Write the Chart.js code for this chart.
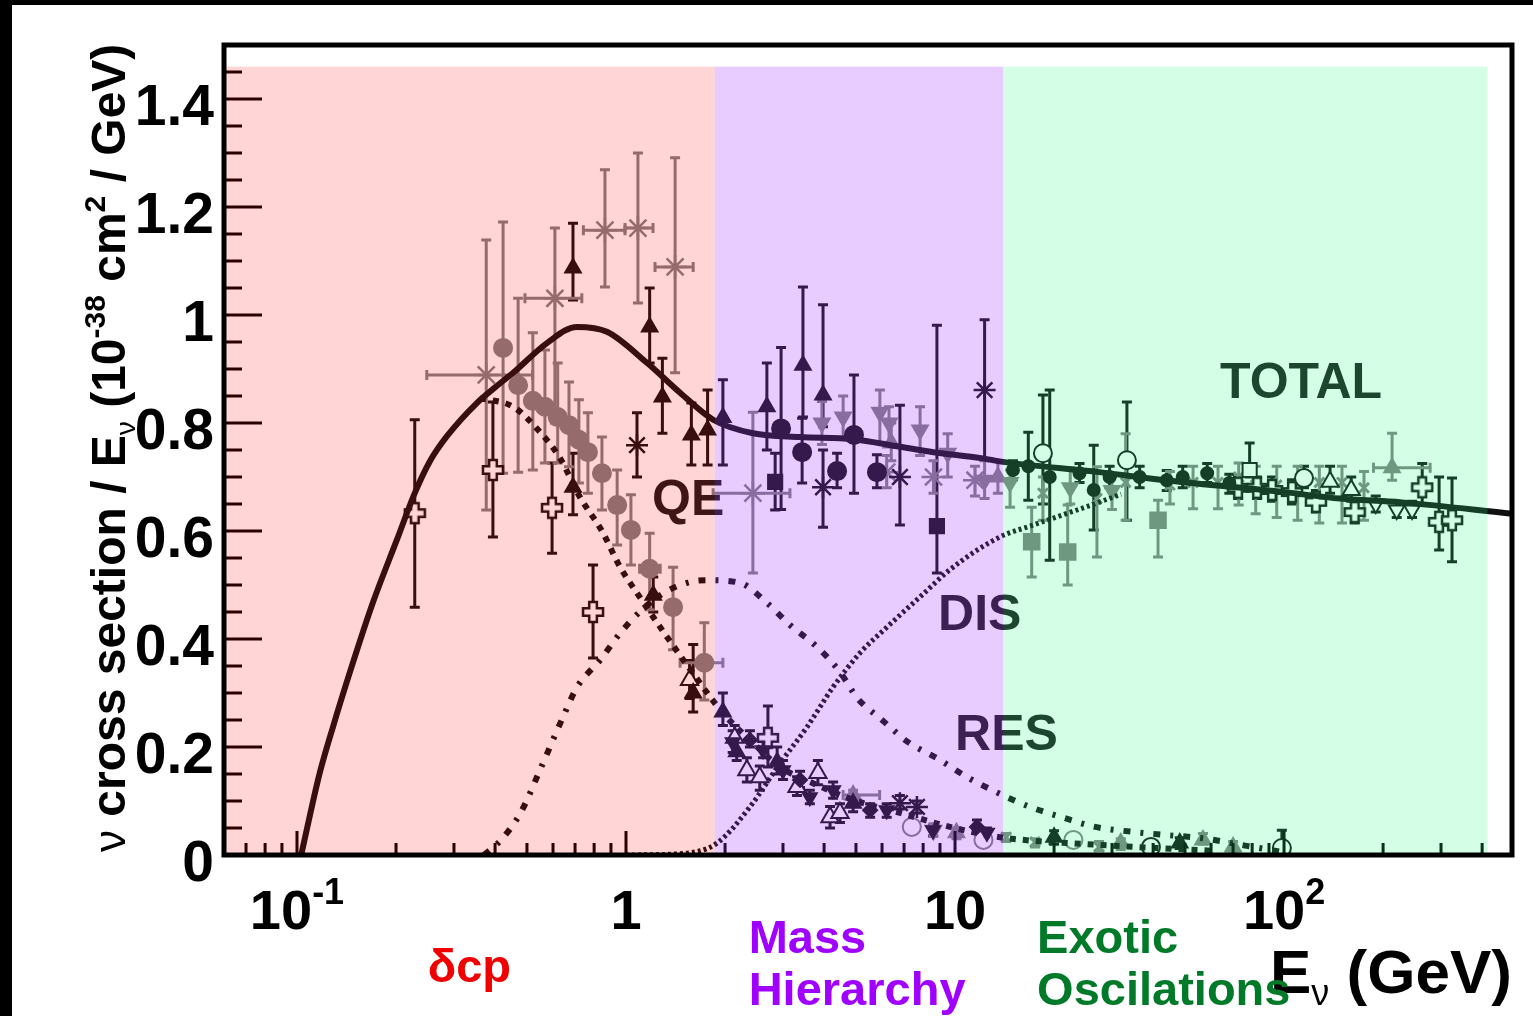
<!DOCTYPE html>
<html>
<head>
<meta charset="utf-8">
<script src="https://cdn.jsdelivr.net/npm/chart.js@4.4.0/dist/chart.umd.min.js"></script>
<style>
  html, body { margin: 0; padding: 0; background: #fff; }
  canvas { display: block; }
</style>
</head>
<body>
<canvas id="xsecChart" width="1533" height="1016"></canvas>
<script>
// ---- curves (E in GeV, sigma/E in 1e-38 cm2/GeV) ----
const totalE  = [0.103, 0.1095, 0.1175, 0.1286, 0.1449, 0.170, 0.201, 0.228, 0.254, 0.286, 0.352, 0.40, 0.454, 0.575, 0.71, 0.875, 1.16, 1.46, 1.84, 2.43, 3.38, 4.9, 6.8, 8.6, 12, 14, 27.4, 45, 100, 148, 227, 493];
const totalXs = [0.0, 0.074, 0.154, 0.237, 0.339, 0.467, 0.583, 0.670, 0.730, 0.776, 0.837, 0.866, 0.893, 0.948, 0.978, 0.969, 0.911, 0.856, 0.806, 0.781, 0.774, 0.770, 0.756, 0.746, 0.735, 0.728, 0.709, 0.693, 0.672, 0.660, 0.653, 0.632];

const qeE  = [0.36, 0.454, 0.541, 0.63, 0.724, 0.845, 0.96, 1.10, 1.27, 1.57, 1.97, 2.38, 2.94, 3.70, 4.9, 6.8, 9.66, 13.7, 27, 60];
const qeXs = [0.846, 0.830, 0.787, 0.735, 0.663, 0.600, 0.533, 0.478, 0.422, 0.343, 0.263, 0.213, 0.163, 0.133, 0.102, 0.078, 0.052, 0.033, 0.019, 0.008];

const resE  = [0.37, 0.42, 0.48, 0.55, 0.644, 0.71, 0.834, 0.96, 1.1, 1.3, 1.55, 1.76, 2.22, 2.68, 3.15, 3.81, 4.47, 5.04, 6.0, 7.2, 8.88, 10.9, 13.5, 16.9, 21.1, 26.7, 34.5, 43.8, 56.7, 73.5, 98];
const resXs = [0.0, 0.03, 0.08, 0.16, 0.256, 0.311, 0.361, 0.411, 0.45, 0.485, 0.505, 0.509, 0.504, 0.467, 0.426, 0.385, 0.339, 0.291, 0.250, 0.209, 0.178, 0.144, 0.115, 0.089, 0.070, 0.052, 0.043, 0.037, 0.031, 0.019, 0.006];

const disE  = [1.0, 1.5, 1.89, 2.38, 2.94, 3.55, 4.26, 5.14, 6.21, 7.83, 9.86, 13.7, 17.3, 24.8, 32];
const disXs = [0.0, 0.003, 0.022, 0.089, 0.170, 0.237, 0.311, 0.374, 0.422, 0.478, 0.533, 0.589, 0.611, 0.644, 0.668];

// ---- measurements: [E, sigma, sigmaLow, sigmaHigh, (ELow, EHigh)] ----
const darkTriangles = [
  [0.69, 1.087, 1.028, 1.170], [1.18, 0.978, 0.911, 1.050], [1.29, 0.848, 0.781, 0.920],
  [1.58, 0.778, 0.722, 0.837], [1.77, 0.787, 0.722, 0.861], [1.97, 0.810, 0.722, 0.880],
  [0.69, 0.681, 0.630, 0.744], [1.21, 0.481, 0.450, 0.515], [1.60, 0.300, 0.265, 0.390],
  [1.97, 0.265, 0.240, 0.300], [2.68, 0.830, 0.750, 0.911], [3.45, 0.907, 0.811, 1.052],
  [3.97, 0.852, 0.793, 1.019], [2.17, 0.191, 0.175, 0.21], [2.88, 0.172, 0.150, 0.200],
  [4.90, 0.096, 0.080, 0.110], [20.0, 0.033, 0.02, 0.045], [48.2, 0.022, 0.012, 0.032]
];
const darkInvTriangles = [
  [2.11, 0.209, 0.19, 0.23], [2.61, 0.194, 0.18, 0.21], [3.0, 0.157, 0.14, 0.175],
  [3.62, 0.107, 0.095, 0.12], [4.26, 0.120, 0.105, 0.135], [6.2, 0.083, 0.07, 0.095],
  [8.57, 0.046, 0.035, 0.055], [12.5, 0.041, 0.03, 0.05]
];
const darkDiamonds = [[2.38, 0.213, 0.2, 0.23], [5.52, 0.083, 0.07, 0.095], [3.38, 0.139, 0.125, 0.155], [11.66, 0.052, 0.04, 0.065]];
const darkStars = [
  [1.08, 0.759, 0.700, 0.819], [3.97, 0.681, 0.607, 0.75], [12.3, 0.861, 0.731, 0.991],
  [6.8, 0.70, 0.611, 0.833], [6.8, 0.096, 0.085, 0.11], [7.66, 0.089, 0.078, 0.10]
];
const darkCircles = [
  [3.43, 0.746, 0.689, 0.809], [4.38, 0.711, 0.680, 0.744], [5.79, 0.709, 0.680, 0.741],
  [2.96, 0.79, 0.64, 0.94], [4.93, 0.778, 0.670, 0.889]
];
const darkBand = [
  [15.0, 0.713, 0.695, 0.73], [16.7, 0.72, 0.657, 0.783], [19.4, 0.70, 0.546, 0.861], [23.9, 0.707, 0.69, 0.725],
  [26.4, 0.676, 0.602, 0.759], [29.5, 0.70, 0.68, 0.72], [36.4, 0.70, 0.68, 0.72], [44.0, 0.694, 0.675, 0.712],
  [49.2, 0.70, 0.68, 0.72], [58.4, 0.707, 0.69, 0.725], [68.2, 0.689, 0.67, 0.705]
];
const darkSquares = [[2.84, 0.691, 0.639, 0.744], [8.81, 0.609, 0.522, 0.981]];
const darkOpenCircles = [[18.5, 0.744, 0.65, 0.852], [33.3, 0.731, 0.620, 0.839], [115, 0.698, 0.68, 0.72], [39.4, 0.015, 0.005, 0.025], [98.5, 0.013, 0.0, 0.046]];
const darkOpenTriangles = [
  [2.14, 0.217, 0.19, 0.24], [2.33, 0.157, 0.135, 0.18], [2.55, 0.144, 0.12, 0.165], [3.31, 0.126, 0.11, 0.145],
  [3.83, 0.152, 0.13, 0.175], [4.17, 0.070, 0.05, 0.09], [4.47, 0.078, 0.06, 0.095], [1.56, 0.324, 0.29, 0.36],
  [138, 0.691, 0.67, 0.72], [160, 0.676, 0.655, 0.70]
];
const darkOpenSquares = [[78.6, 0.713, 0.70, 0.763]];
const darkOpenInvTriangles = [[190, 0.650, 0.635, 0.665], [220, 0.639, 0.625, 0.655], [245, 0.639, 0.625, 0.655]];
const darkOpenPlus = [
  [0.228, 0.633, 0.459, 0.806], [0.394, 0.713, 0.589, 0.839], [0.596, 0.643, 0.559, 0.726], [0.794, 0.450, 0.365, 0.537],
  [2.70, 0.217, 0.163, 0.276], [72.5, 0.68, 0.66, 0.70], [82.8, 0.68, 0.66, 0.70], [91.9, 0.676, 0.655, 0.70],
  [105.7, 0.672, 0.65, 0.695], [125, 0.654, 0.635, 0.675], [164, 0.635, 0.615, 0.655], [263, 0.681, 0.650, 0.725],
  [296, 0.617, 0.565, 0.70], [324, 0.620, 0.543, 0.698]
];

const lightCircles = [
  [0.423, 0.939, 0.707, 1.172], [0.47, 0.870, 0.709, 1.031], [0.521, 0.841, 0.713, 0.967], [0.567, 0.830, 0.726, 0.935],
  [0.62, 0.811, 0.726, 0.911], [0.671, 0.796, 0.719, 0.876], [0.719, 0.769, 0.689, 0.843], [0.766, 0.746, 0.670, 0.819],
  [0.845, 0.707, 0.639, 0.774], [0.94, 0.648, 0.574, 0.713], [1.035, 0.602, 0.537, 0.667], [1.18, 0.530, 0.454, 0.596, 1.10, 1.27],
  [1.39, 0.459, 0.380, 0.533], [1.73, 0.356, 0.287, 0.430, 1.46, 1.97]
];
const lightStars = [
  [0.376, 0.889, 0.639, 1.139, 0.248, 0.52], [0.608, 1.031, 0.80, 1.161, 0.493, 0.734], [0.863, 1.157, 1.052, 1.269, 0.742, 0.993],
  [1.087, 1.161, 1.022, 1.30, 0.993, 1.208], [1.41, 1.089, 0.893, 1.291, 1.225, 1.6], [2.43, 0.670, 0.522, 0.820, 1.84, 3.15],
  [6.2, 0.709, 0.68, 0.74], [8.6, 0.70, 0.67, 0.73], [11.5, 0.694, 0.665, 0.72]
];
const lightInvTriangles = [
  [3.94, 0.80, 0.76, 0.84], [4.57, 0.811, 0.77, 0.85], [5.91, 0.820, 0.763, 0.861], [6.3, 0.80, 0.76, 0.83],
  [7.83, 0.787, 0.74, 0.83], [9.5, 0.744, 0.70, 0.78], [12.3, 0.694, 0.66, 0.73], [14.7, 0.69, 0.644, 0.713],
  [22.4, 0.68, 0.65, 0.717], [30, 0.675, 0.64, 0.70], [8.6, 0.046, 0.035, 0.058]
];
const lightTriangles = [
  [6.4, 0.763, 0.73, 0.80], [10.1, 0.041, 0.03, 0.05], [31.9, 0.022, 0.01, 0.03], [56.7, 0.028, 0.02, 0.04],
  [70, 0.015, 0.005, 0.025], [213, 0.717, 0.694, 0.781, 187, 278], [4.9, 0.111, 0.10, 0.12, 4.57, 5.9], [13.5, 0.70, 0.67, 0.73]
];
const lightSquares = [[17.1, 0.580, 0.515, 0.644], [22.0, 0.561, 0.5, 0.648], [41.4, 0.620, 0.552, 0.657]];
const lightSmall = [
  [18.5, 0.67, 0.62, 0.70], [27.0, 0.66, 0.552, 0.719], [33, 0.69, 0.62, 0.78], [45, 0.685, 0.65, 0.71],
  [52.9, 0.69, 0.641, 0.72], [63, 0.69, 0.641, 0.72], [72.8, 0.70, 0.648, 0.726], [82, 0.685, 0.632, 0.72],
  [95, 0.685, 0.625, 0.72], [110, 0.68, 0.62, 0.72], [128, 0.69, 0.615, 0.72], [150, 0.69, 0.615, 0.72],
  [175, 0.68, 0.62, 0.71], [14.3, 0.033, 0.025, 0.04], [17.5, 0.024, 0.015, 0.03], [27.4, 0.015, 0.008, 0.025]
];
const lightOpenCircles = [[12.2, 0.028, 0.02, 0.035], [22.9, 0.028, 0.02, 0.035], [7.39, 0.052, 0.04, 0.065]];

// ---- axes, regions, labels ----
const yTicks = [0, 0.2, 0.4, 0.6, 0.8, 1, 1.2, 1.4];
const yTickLabels = ['0', '0.2', '0.4', '0.6', '0.8', '1', '1.2', '1.4'];
const xTicks = [0.1, 1, 10, 100];
const xTickLabels = [['10', '-1'], ['1', ''], ['10', ''], ['10', '2']];
const regionEdges = [0.06, 1.86, 14, 415];
const regionTop = 1.46;
const regionNames = [['δcp'], ['Mass', 'Hierarchy'], ['Exotic', 'Oscilations']];
const curveLabels = ['QE', 'DIS', 'RES', 'TOTAL'];
const curveLabelAt = [[1.2, 0.63], [8.88, 0.417], [10.0, 0.194], [63.9, 0.846]];

const FONT = '"Liberation Sans", Arial, Helvetica, sans-serif';
const DARK = '#111111';
const LIGHT = '#808080';
// translucent washes laid over the grey plot
const regionColors = ['rgba(255, 0, 0, 0.165)', 'rgba(163, 51, 255, 0.25)', 'rgba(40, 255, 130, 0.2)'];
const regionTextColors = ['#f00000', '#a000ff', '#007a28'];

function openPlus(size, color) {
  const c = document.createElement('canvas');
  c.width = c.height = size;
  const g = c.getContext('2d');
  const a = size / 2, w = size * 0.16, m = 2;
  const pts = [[a - w, m], [a + w, m], [a + w, a - w], [size - m, a - w], [size - m, a + w], [a + w, a + w],
               [a + w, size - m], [a - w, size - m], [a - w, a + w], [m, a + w], [m, a - w], [a - w, a - w]];
  g.beginPath();
  pts.forEach((p, i) => i ? g.lineTo(p[0], p[1]) : g.moveTo(p[0], p[1]));
  g.closePath();
  g.fillStyle = '#fff';
  g.fill();
  g.strokeStyle = color;
  g.lineWidth = 2.5;
  g.stroke();
  return c;
}

function curve(xs, ys, dash, width) {
  return {
    type: 'line', data: xs.map((e, i) => ({x: e, y: ys[i]})),
    borderColor: DARK, borderWidth: width, borderDash: dash, pointRadius: 0,
    cubicInterpolationMode: 'monotone', fill: false
  };
}

function markers(rows, style, color, radius, opts) {
  return Object.assign({
    type: 'scatter', rows: rows, data: rows.map(r => ({x: r[0], y: r[1]})),
    pointStyle: style, pointRadius: radius, backgroundColor: color, borderColor: color, borderWidth: 2
  }, opts || {});
}

const errorBars = {
  id: 'errorBars',
  beforeDatasetsDraw(chart) {
    const {ctx, chartArea: a, scales: {x, y}} = chart;
    ctx.save();
    ctx.beginPath();
    ctx.rect(a.left, a.top, a.width, a.height);
    ctx.clip();
    chart.data.datasets.forEach(ds => {
      if (!ds.rows) return;
      ctx.strokeStyle = ds.borderColor;
      ctx.lineWidth = 3;
      ds.rows.forEach(r => {
        const px = x.getPixelForValue(r[0]);
        const py = y.getPixelForValue(r[1]);
        const lo = y.getPixelForValue(r[2]), hi = y.getPixelForValue(r[3]);
        ctx.beginPath();
        ctx.moveTo(px, lo); ctx.lineTo(px, hi);
        ctx.moveTo(px - 5, lo); ctx.lineTo(px + 5, lo);
        ctx.moveTo(px - 5, hi); ctx.lineTo(px + 5, hi);
        if (r.length > 4) {
          const l = x.getPixelForValue(r[4]), h = x.getPixelForValue(r[5]);
          ctx.moveTo(l, py); ctx.lineTo(h, py);
          ctx.moveTo(l, py - 5); ctx.lineTo(l, py + 5);
          ctx.moveTo(h, py - 5); ctx.lineTo(h, py + 5);
        }
        ctx.stroke();
      });
    });
    ctx.restore();
  }
};

function drawParts(ctx, parts, x, y) {
  parts.forEach(p => {
    ctx.font = p.font;
    ctx.fillText(p.text, x, y - (p.rise || 0));
    x += ctx.measureText(p.text).width;
  });
  return x;
}
function partsWidth(ctx, parts) {
  let w = 0;
  parts.forEach(p => { ctx.font = p.font; w += ctx.measureText(p.text).width; });
  return w;
}

const decorations = {
  id: 'decorations',
  beforeDraw(chart) {
    const {ctx, width, height} = chart;
    ctx.save();
    ctx.fillStyle = '#fff';
    ctx.fillRect(0, 0, width, height);
    ctx.fillStyle = '#000';
    ctx.fillRect(0, 0, width, 5);
    ctx.fillRect(0, 0, 12, height);
    ctx.restore();
  },
  afterDatasetsDraw(chart) {
    const {ctx, chartArea: a, scales: {x, y}} = chart;
    ctx.save();
    // curve names
    ctx.font = `bold 50px ${FONT}`;
    ctx.fillStyle = '#1a1a1a';
    curveLabels.forEach((t, i) => ctx.fillText(t, x.getPixelForValue(curveLabelAt[i][0]), y.getPixelForValue(curveLabelAt[i][1])));
    // inward ticks
    ctx.strokeStyle = '#000';
    ctx.lineWidth = 3;
    ctx.beginPath();
    for (let k = 1; k <= 29; k++) {
      const py = y.getPixelForValue(k * 0.05);
      ctx.moveTo(a.left, py);
      ctx.lineTo(a.left + (k % 4 === 0 ? 38 : 18), py);
    }
    [0.01, 0.1, 1, 10, 100].forEach(d => {
      for (let k = 1; k <= 9; k++) {
        const v = k * d;
        if (v <= x.min || v >= x.max) continue;
        const px = x.getPixelForValue(v);
        ctx.moveTo(px, a.bottom);
        ctx.lineTo(px, a.bottom - (k === 1 ? 24 : 12));
      }
    });
    ctx.stroke();
    // physics regions washed over everything drawn so far
    const top = y.getPixelForValue(regionTop);
    for (let i = 0; i < regionColors.length; i++) {
      const l = Math.max(a.left, x.getPixelForValue(regionEdges[i]));
      const r = x.getPixelForValue(regionEdges[i + 1]);
      ctx.fillStyle = regionColors[i];
      ctx.fillRect(l, top, r - l, a.bottom - top);
    }
    // frame
    ctx.lineWidth = 5;
    ctx.strokeStyle = '#000';
    ctx.strokeRect(a.left, a.top, a.width, a.height);
    ctx.restore();
  },
  afterDraw(chart) {
    const {ctx, scales: {x, y}} = chart;
    ctx.save();
    ctx.fillStyle = '#000';
    ctx.textBaseline = 'alphabetic';
    // y tick labels
    ctx.font = `bold 57px ${FONT}`;
    ctx.textAlign = 'right';
    yTicks.forEach((v, i) => ctx.fillText(yTickLabels[i], 214, y.getPixelForValue(v) + 26));
    ctx.textAlign = 'left';
    // x tick labels
    xTicks.forEach((v, i) => {
      const parts = [{text: xTickLabels[i][0], font: `bold 56px ${FONT}`},
                     {text: xTickLabels[i][1], font: `bold 36px ${FONT}`, rise: 25}];
      const w = partsWidth(ctx, parts);
      drawParts(ctx, parts, x.getPixelForValue(v) - w / 2, 929);
    });
    // x title
    drawParts(ctx, [
      {text: 'E', font: `bold 62px ${FONT}`},
      {text: 'ν', font: `36px ${FONT}`, rise: -12},
      {text: ' (GeV)', font: `bold 62px ${FONT}`}
    ], 1270, 993);
    // y title
    ctx.translate(125, 852);
    ctx.rotate(-Math.PI / 2);
    drawParts(ctx, [
      {text: 'ν', font: `44px ${FONT}`},
      {text: ' cross section / E', font: `bold 48px ${FONT}`},
      {text: 'ν', font: `28px ${FONT}`, rise: -10},
      {text: ' (10', font: `bold 48px ${FONT}`},
      {text: '-38', font: `bold 30px ${FONT}`, rise: 20},
      {text: ' cm', font: `bold 48px ${FONT}`},
      {text: '2', font: `bold 30px ${FONT}`, rise: 20},
      {text: ' / GeV)', font: `bold 48px ${FONT}`}
    ], 0, 0);
    ctx.setTransform(1, 0, 0, 1, 0, 0);
    // region names under the axis
    ctx.font = `bold 47px ${FONT}`;
    regionNames.forEach((lines, i) => {
      ctx.fillStyle = regionTextColors[i];
      const l = x.getPixelForValue(regionEdges[i]);
      const r = x.getPixelForValue(regionEdges[i + 1]);
      if (lines.length === 1) {
        ctx.textAlign = 'center';
        ctx.fillText(lines[0], (Math.max(l, chart.chartArea.left) + r) / 2, 982);
      } else {
        ctx.textAlign = 'left';
        lines.forEach((t, j) => ctx.fillText(t, l + 34, 953 + j * 52));
      }
    });
    ctx.restore();
  }
};

const plusDark = openPlus(24, DARK);

new Chart(document.getElementById('xsecChart'), {
  type: 'scatter',
  data: {
    datasets: [
      curve(totalE, totalXs, [], 6),
      curve(qeE, qeXs, [6, 7], 6),
      curve(resE, resXs, [7, 10, 3, 10], 6),
      curve(disE, disXs, [3, 3], 5),
      markers(darkTriangles, 'triangle', DARK, 9),
      markers(darkInvTriangles, 'triangle', DARK, 8, {rotation: 180}),
      markers(darkDiamonds, 'rectRot', DARK, 7),
      markers(darkStars, 'star', DARK, 11, {borderWidth: 2.5}),
      markers(darkCircles, 'circle', DARK, 9),
      markers(darkBand, 'circle', DARK, 6),
      markers(darkSquares, 'rect', DARK, 10),
      markers(darkOpenCircles, 'circle', DARK, 9, {backgroundColor: '#fff'}),
      markers(darkOpenTriangles, 'triangle', DARK, 10, {backgroundColor: '#fff'}),
      markers(darkOpenSquares, 'rect', DARK, 10, {backgroundColor: '#fff'}),
      markers(darkOpenInvTriangles, 'triangle', DARK, 9, {backgroundColor: '#fff', rotation: 180}),
      markers(darkOpenPlus, plusDark, DARK, 12),
      markers(lightCircles, 'circle', LIGHT, 9),
      markers(lightStars, 'star', LIGHT, 12, {borderWidth: 2.5}),
      markers(lightInvTriangles, 'triangle', LIGHT, 9, {rotation: 180}),
      markers(lightTriangles, 'triangle', LIGHT, 9),
      markers(lightSquares, 'rect', LIGHT, 11),
      markers(lightSmall, 'crossRot', LIGHT, 7, {borderWidth: 3}),
      markers(lightOpenCircles, 'circle', LIGHT, 9, {backgroundColor: '#fff'})
    ]
  },
  options: {
    responsive: false,
    devicePixelRatio: 1,
    animation: false,
    events: [],
    layout: {padding: {left: 224, top: 45, right: 21, bottom: 161}},
    plugins: {legend: {display: false}, tooltip: {enabled: false}},
    scales: {
      x: {type: 'logarithmic', min: 0.06, max: 493, display: false},
      y: {min: 0, max: 1.5, display: false}
    }
  },
  plugins: [errorBars, decorations]
});
</script>
</body>
</html>
